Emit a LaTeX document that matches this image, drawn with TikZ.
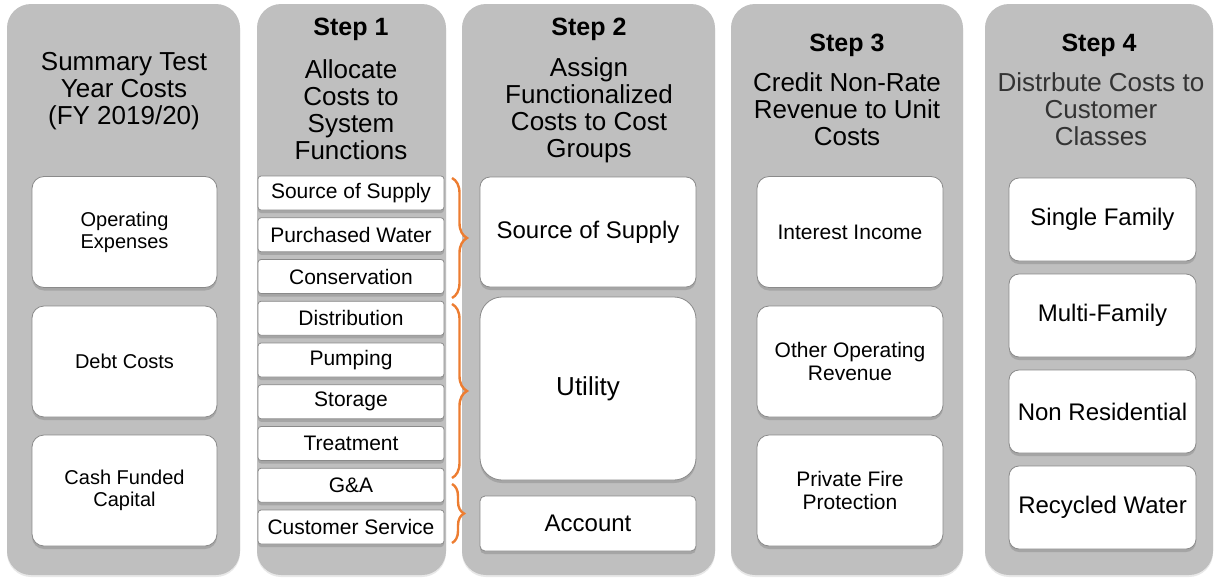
\documentclass[tikz,border=0pt]{standalone}
\usepackage{fontspec}
\setmainfont{Liberation Sans}
\usetikzlibrary{shadows,decorations.pathreplacing}
\definecolor{panelgray}{HTML}{BFBFBF}
\definecolor{boxedge}{HTML}{8A8A8A}
\definecolor{braceor}{HTML}{ED7D31}
\newcommand\fsz[2]{\fontsize{#1}{#2}\selectfont}
\begin{document}
\begin{tikzpicture}[x=1pt,y=-1pt,
  panel/.style={draw=none, fill=panelgray, rounded corners=24pt, inner sep=0pt,
    drop shadow={shadow xshift=0pt, shadow yshift=-2pt, opacity=0.18}},
  wbox/.style={draw=boxedge, line width=0.8pt, fill=white, inner sep=2pt, align=center,
    drop shadow={shadow xshift=0pt, shadow yshift=-3pt, opacity=0.4}},
  ttl/.style={align=center, inner sep=0pt, font=\fsz{26}{27}},
  steph/.style={inner sep=0pt, font=\bfseries\fsz{25}{27}},
  bigbox/.style={wbox, minimum width=185pt, minimum height=111pt, rounded corners=12pt, font=\fsz{20}{22}},
  fbox/.style={wbox, minimum width=186pt, minimum height=34pt, rounded corners=3pt, font=\fsz{21}{23}, inner sep=0pt},
  cbox/.style={wbox, minimum width=187pt, minimum height=83pt, rounded corners=10pt, font=\fsz{24}{26}},
  gbox/.style={wbox, minimum width=216pt, font=\fsz{24}{26}},
  brc/.style={draw=braceor, line width=2.4pt, decorate, decoration={brace, amplitude=15pt}}
]
\useasboundingbox (0,0) rectangle (1215,579);

% panels
\node[panel, minimum width=233pt, minimum height=571pt] (p1) at (123.5,289.5) {};
\node[panel, minimum width=189pt, minimum height=571pt] (p2) at (351.5,289.5) {};
\node[panel, minimum width=253pt, minimum height=571pt] (p3) at (588.5,289.5) {};
\node[panel, minimum width=232pt, minimum height=571pt] (p4) at (847,289.5) {};
\node[panel, minimum width=228pt, minimum height=571pt] (p5) at (1099,289.5) {};

% titles
\node[ttl] (t1) at (124,91) {Summary Test\\Year Costs\\(FY 2019/20)};
\node[steph] (h1) at (351,29) {Step 1};
\node[ttl] (t2) at (351,110) {Allocate\\Costs to\\System\\Functions};
\node[steph] (h2) at (589,29) {Step 2};
\node[ttl] (t3) at (589,110) {Assign\\Functionalized\\Costs to Cost\\Groups};
\node[steph] (h3) at (847,45) {Step 3};
\node[ttl] (t4) at (847,109) {Credit Non-Rate\\Revenue to Unit\\Costs};
\node[steph] (h4) at (1099,45) {Step 4};
\node[ttl, text=black!80] (t5) at (1101,109) {Distrbute Costs to\\Customer\\Classes};

% column 1
\node[bigbox] (c1a) at (124.5,232) {Operating\\Expenses};
\node[bigbox] (c1b) at (124.5,361.5) {Debt Costs};
\node[bigbox] (c1c) at (124.5,490.5) {Cash Funded\\Capital};

% column 2
\node[fbox] (s1) at (351,193) {Source of Supply};
\node[fbox] (s2) at (351,234.75) {Purchased Water};
\node[fbox] (s3) at (351,276.5) {Conservation};
\node[fbox] (s4) at (351,318.25) {Distribution};
\node[fbox] (s5) at (351,360) {Pumping};
\node[fbox] (s6) at (351,401.75) {Storage};
\node[fbox] (s7) at (351,443.5) {Treatment};
\node[fbox] (s8) at (351,485.25) {G\&A};
\node[fbox] (s9) at (351,527) {Customer Service};

% column 3
\node[gbox, minimum height=110pt, rounded corners=10pt] (g1) at (588,232) {Source of Supply};
\node[gbox, minimum height=183pt, rounded corners=22pt, font=\fsz{26}{28}] (g2) at (588,388.5) {Utility};
\node[gbox, minimum height=55pt, rounded corners=5pt] (g3) at (588,523.5) {Account};

% column 4
\node[bigbox, minimum width=186pt, font=\fsz{21}{23}] (r1) at (850,232) {Interest Income};
\node[bigbox, minimum width=186pt, font=\fsz{21}{23}] (r2) at (850,361.5) {Other Operating\\Revenue};
\node[bigbox, minimum width=186pt, font=\fsz{21}{23}] (r3) at (850,490.5) {Private Fire\\Protection};

% column 5
\node[cbox] (k1) at (1102.5,219.5) {Single Family};
\node[cbox] (k2) at (1102.5,315.5) {Multi-Family};
\node[cbox] (k3) at (1102.5,411.5) {Non Residential};
\node[cbox] (k4) at (1102.5,507.5) {Recycled Water};

% braces
\coordinate (b1s) at (452,178);
\coordinate (b1e) at (452,298);
\coordinate (b2s) at (452,304);
\coordinate (b2e) at (452,478);
\coordinate (b3s) at (452,484);
\coordinate (b3e) at (452,543);
\draw[brc] (b1s) -- (b1e);
\draw[brc] (b2s) -- (b2e);
\draw[brc, decoration={brace, amplitude=12pt}] (b3s) -- (b3e);
\end{tikzpicture}
\end{document}
